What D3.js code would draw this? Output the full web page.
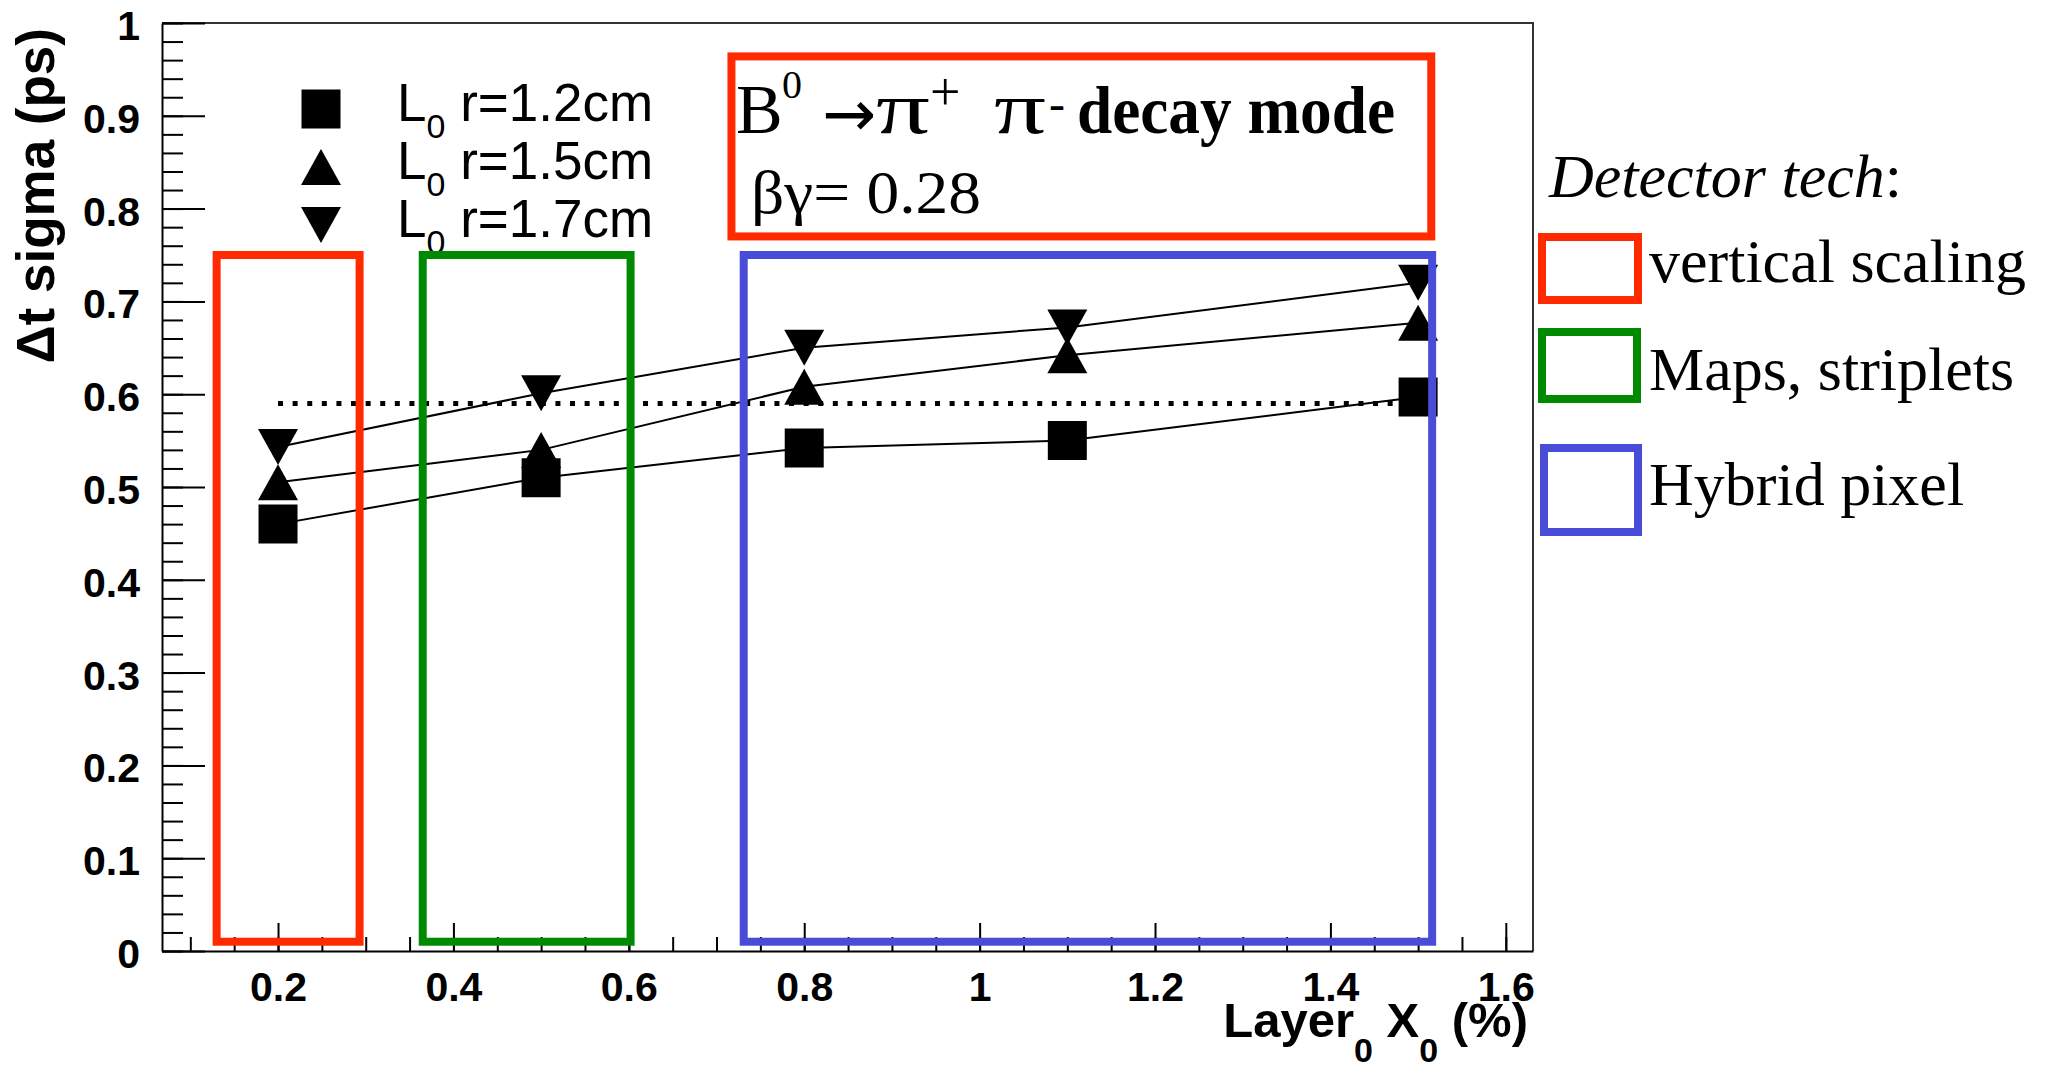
<!DOCTYPE html>
<html>
<head>
<meta charset="utf-8">
<script src="https://cdn.jsdelivr.net/npm/d3@7"></script>
<style>
  body { margin: 0; background: #fff; }
  svg { display: block; }
</style>
</head>
<body>
<div id="chart"></div>
<script>
// values
const layerX0 = [0.2, 0.5, 0.8, 1.1, 1.5];
const sigmaR12 = [0.460, 0.510, 0.542, 0.550, 0.597];
const sigmaR15 = [0.505, 0.540, 0.608, 0.642, 0.677];
const sigmaR17 = [0.543, 0.601, 0.650, 0.672, 0.720];
const seriesLabels = ["r=1.2cm", "r=1.5cm", "r=1.7cm"];
const seriesMarkers = ["square", "up", "down"];

const refLevel = 0.59;            // dotted line
const refRange = [0.2, 1.5];

const xTicks = [0.2, 0.4, 0.6, 0.8, 1.0, 1.2, 1.4, 1.6];
const xTickLabels = ["0.2", "0.4", "0.6", "0.8", "1", "1.2", "1.4", "1.6"];
const yTicks = [0, 0.1, 0.2, 0.3, 0.4, 0.5, 0.6, 0.7, 0.8, 0.9, 1.0];
const yTickLabels = ["0", "0.1", "0.2", "0.3", "0.4", "0.5", "0.6", "0.7", "0.8", "0.9", "1"];

// detector technology regions (x ranges in Layer0 X0 units)
const techNames = ["vertical scaling", "Maps, striplets", "Hybrid pixel"];
const techRanges = [[0.13, 0.293], [0.365, 0.602], [0.731, 1.516]];
const techSpan = [0.01, 0.75];
const techColors = ["#ff2a00", "#008a00", "#484cd6"];

const W = 2058, H = 1066;
const svg = d3.select("#chart").append("svg")
  .attr("width", W)
  .attr("height", H);

svg.append("rect").attr("width", W).attr("height", H).attr("fill", "#fff");

const x = d3.scaleLinear().domain([0.0677, 1.631]).range([162, 1533]);
const y = d3.scaleLinear().domain([0, 1]).range([951, 23]);

const sans = "'Liberation Sans', Arial, Helvetica, sans-serif";
const serif = "'Liberation Serif', 'Times New Roman', Times, serif";

// frame (top + right)
svg.append("path")
  .attr("d", `M${x.range()[0]},${y(1)} H${x.range()[1]} V${y(0)}`)
  .attr("fill", "none")
  .attr("stroke", "#333")
  .attr("stroke-width", 2);

// minor ticks
svg.append("g")
  .attr("transform", `translate(0,${y(0)})`)
  .call(d3.axisBottom(x).tickValues(d3.range(2, 33).map(i => i * 0.05)).tickSizeInner(-14).tickSizeOuter(0).tickFormat(""))
  .call(g => g.select(".domain").remove())
  .call(g => g.selectAll("line").attr("stroke", "#000").attr("stroke-width", 2));

svg.append("g")
  .attr("transform", `translate(${x.range()[0]},0)`)
  .call(d3.axisLeft(y).tickValues(d3.range(0, 51).map(i => i * 0.02)).tickSizeInner(-21).tickSizeOuter(0).tickFormat(""))
  .call(g => g.select(".domain").remove())
  .call(g => g.selectAll("line").attr("stroke", "#000").attr("stroke-width", 2));

// major axes
svg.append("g")
  .attr("transform", `translate(0,${y(0)})`)
  .call(d3.axisBottom(x).tickValues(xTicks).tickSizeInner(-28).tickSizeOuter(0).tickPadding(21)
    .tickFormat((d, i) => xTickLabels[i]))
  .call(g => g.select(".domain").attr("stroke", "#000").attr("stroke-width", 2))
  .call(g => g.selectAll("line").attr("stroke", "#000").attr("stroke-width", 2))
  .call(g => g.selectAll("text")
    .attr("fill", "#000")
    .style("font-family", sans)
    .style("font-weight", "bold")
    .style("font-size", "41px"));

svg.append("g")
  .attr("transform", `translate(${x.range()[0]},0)`)
  .call(d3.axisLeft(y).tickValues(yTicks).tickSizeInner(-43).tickSizeOuter(0).tickPadding(22)
    .tickFormat((d, i) => yTickLabels[i]))
  .call(g => g.select(".domain").attr("stroke", "#000").attr("stroke-width", 2))
  .call(g => g.selectAll("line").attr("stroke", "#000").attr("stroke-width", 2))
  .call(g => g.selectAll("text")
    .attr("fill", "#000")
    .attr("dy", "0.4em")
    .style("font-family", sans)
    .style("font-weight", "bold")
    .style("font-size", "41px"));

// axis titles
const xt = svg.append("text")
  .attr("x", 1528)
  .attr("y", 1037)
  .attr("text-anchor", "end")
  .style("font-family", sans)
  .style("font-weight", "bold")
  .style("font-size", "49px");
xt.append("tspan").text("Layer");
xt.append("tspan").attr("dy", 25).style("font-size", "34px").text("0");
xt.append("tspan").attr("dy", -25).text(" X");
xt.append("tspan").attr("dy", 25).style("font-size", "34px").text("0");
xt.append("tspan").attr("dy", -25).text(" (%)");

svg.append("text")
  .attr("transform", "translate(54,28) rotate(-90)")
  .attr("text-anchor", "end")
  .style("font-family", sans)
  .style("font-weight", "bold")
  .style("font-size", "53px")
  .text("\u0394t sigma (ps)");

// dotted reference line
svg.append("line")
  .attr("x1", x(refRange[0]))
  .attr("x2", x(refRange[1]))
  .attr("y1", y(refLevel))
  .attr("y2", y(refLevel))
  .attr("stroke", "#000")
  .attr("stroke-width", 5)
  .attr("stroke-dasharray", "5,9.6");

// series
const series = [sigmaR12, sigmaR15, sigmaR17].map((vals, i) => ({
  label: seriesLabels[i],
  marker: seriesMarkers[i],
  points: layerX0.map((lx, j) => ({x: lx, y: vals[j]}))
}));

const line = d3.line().x(d => x(d.x)).y(d => y(d.y));

svg.append("g")
  .selectAll("path")
  .data(series)
  .enter().append("path")
    .attr("d", d => line(d.points))
    .attr("fill", "none")
    .attr("stroke", "#000")
    .attr("stroke-width", 2);

function markerPath(type) {
  const s = 39, h = 36, w = 40;
  if (type === "square") return `M${-s / 2},${-s / 2}h${s}v${s}h${-s}Z`;
  if (type === "up") return `M0,${-h / 2}L${w / 2},${h / 2}L${-w / 2},${h / 2}Z`;
  return `M0,${h / 2}L${w / 2},${-h / 2}L${-w / 2},${-h / 2}Z`;
}

svg.append("g")
  .selectAll("g")
  .data(series)
  .enter().append("g")
  .selectAll("path")
  .data(d => d.points.map(p => ({...p, marker: d.marker})))
  .enter().append("path")
    .attr("transform", d => `translate(${x(d.x)},${y(d.y)})`)
    .attr("d", d => markerPath(d.marker))
    .attr("fill", "#000");

// series legend
const leg = svg.append("g");
series.forEach((s, i) => {
  const cy = 109 + i * 58;
  leg.append("path")
    .attr("transform", `translate(321,${cy})`)
    .attr("d", markerPath(s.marker))
    .attr("fill", "#000");
  const t = leg.append("text")
    .attr("x", 397)
    .attr("y", cy + 12)
    .style("font-family", sans)
    .style("font-size", "53px");
  t.append("tspan").text("L");
  t.append("tspan").attr("dy", 17).style("font-size", "34px").text("0");
  t.append("tspan").attr("dy", -17).text(" " + s.label);
});

// technology boxes over the plot
svg.append("g")
  .selectAll("rect")
  .data(techRanges)
  .enter().append("rect")
    .attr("x", d => x(d[0]))
    .attr("y", y(techSpan[1]))
    .attr("width", d => x(d[1]) - x(d[0]))
    .attr("height", y(techSpan[0]) - y(techSpan[1]))
    .attr("fill", "none")
    .attr("stroke", (d, i) => techColors[i])
    .attr("stroke-width", 8);

// decay mode box
svg.append("rect")
  .attr("x", x(0.717))
  .attr("y", y(0.964))
  .attr("width", x(1.515) - x(0.717))
  .attr("height", y(0.77) - y(0.964))
  .attr("fill", "none")
  .attr("stroke", techColors[0])
  .attr("stroke-width", 8);

const dm = svg.append("g").style("font-family", serif).attr("fill", "#000");
dm.append("text").attr("x", 736).attr("y", 133).style("font-size", "70px").text("B");
dm.append("text").attr("x", 782).attr("y", 98).style("font-size", "40px").text("0");
dm.append("text").attr("x", 822).attr("y", 136)
  .style("font-family", "'DejaVu Sans', sans-serif").style("font-size", "64px")
  .attr("textLength", 54).attr("lengthAdjust", "spacingAndGlyphs")
  .text("\u2192");
dm.append("text").attr("x", 876).attr("y", 133).style("font-size", "74px")
  .attr("textLength", 54).attr("lengthAdjust", "spacingAndGlyphs").text("\u03c0");
dm.append("text").attr("x", 930).attr("y", 110).style("font-size", "54px").text("+");
dm.append("text").attr("x", 994).attr("y", 133).style("font-size", "74px")
  .attr("textLength", 52).attr("lengthAdjust", "spacingAndGlyphs").text("\u03c0");
dm.append("text").attr("x", 1049).attr("y", 120).style("font-size", "48px").text("-");
dm.append("text").attr("x", 1077).attr("y", 133)
  .style("font-size", "68px").style("font-weight", "bold")
  .attr("textLength", 318).attr("lengthAdjust", "spacingAndGlyphs")
  .text("decay mode");
dm.append("text").attr("x", 751).attr("y", 213).style("font-size", "62px")
  .attr("textLength", 230).attr("lengthAdjust", "spacingAndGlyphs")
  .text("\u03b2\u03b3= 0.28");

// detector technology legend
const tl = svg.append("g").style("font-family", serif).attr("fill", "#000");
const hdr = tl.append("text").attr("x", 1549).attr("y", 197).style("font-size", "62px");
hdr.append("tspan").style("font-style", "italic").text("Detector tech");
hdr.append("tspan").text(":");

const legBoxes = [
  {x: 1542, y: 237, w: 96, h: 63, base: 282},
  {x: 1542, y: 332, w: 95, h: 67, base: 390},
  {x: 1544, y: 448, w: 94, h: 84, base: 505}
];
legBoxes.forEach((b, i) => {
  tl.append("rect")
    .attr("x", b.x).attr("y", b.y).attr("width", b.w).attr("height", b.h)
    .attr("fill", "none")
    .attr("stroke", techColors[i])
    .attr("stroke-width", 8);
  tl.append("text")
    .attr("x", 1649)
    .attr("y", b.base)
    .style("font-size", "62px")
    .text(techNames[i]);
});
</script>
</body>
</html>
